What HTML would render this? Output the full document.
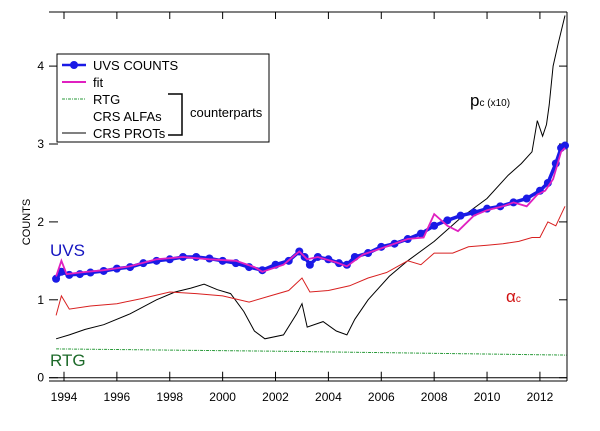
<!DOCTYPE html>
<html><head><meta charset="utf-8"><style>
body{margin:0;background:#fff}
svg{display:block;font-family:"Liberation Sans",sans-serif}
</style></head><body>
<svg id="chart" width="600" height="431" viewBox="0 0 600 431">
<g id="frame" stroke="#000" stroke-width="1" fill="none">
<line x1="49" y1="12" x2="567" y2="12"/>
<line x1="567" y1="12" x2="567" y2="381"/>
<line x1="49" y1="381" x2="567" y2="381"/>
</g>
<g id="axes"></g>
<g id="series"></g>
<text x="30" y="222" font-size="11" text-anchor="middle" transform="rotate(-90 30 222)">COUNTS</text>
<text x="50" y="256" font-size="17" fill="#1515c0">UVS</text>
<text x="50" y="366" font-size="17" fill="#1d6a2a">RTG</text>
<text x="506" y="302" font-size="17" fill="#d01010">α<tspan font-size="10">c</tspan></text>
<text x="470" y="106" font-size="17" fill="#000">p<tspan font-size="10">c (x10)</tspan></text>
<g id="legend">
<rect x="57" y="54" width="212" height="88" fill="#fff" stroke="#000"/>
<line x1="62" y1="65" x2="86" y2="65" stroke="#1a1ae6" stroke-width="2.5"/><circle cx="74" cy="65" r="4" fill="#1a1ae6"/>
<text x="93" y="70" font-size="13">UVS COUNTS</text>
<line x1="62" y1="82" x2="86" y2="82" stroke="#e020c0" stroke-width="2"/>
<text x="93" y="87" font-size="13">fit</text>
<line x1="62" y1="99" x2="86" y2="99" stroke="#2a9a3a" stroke-width="1" stroke-dasharray="3,1,1,1"/>
<text x="93" y="104" font-size="13">RTG</text>
<text x="93" y="121" font-size="13">CRS ALFAs</text>
<line x1="62" y1="133" x2="86" y2="133" stroke="#000"/>
<text x="93" y="138" font-size="13">CRS PROTs</text>
<path d="M168 94H182V135H168" fill="none" stroke="#000" stroke-width="1.5"/>
<text x="190" y="117" font-size="13">counterparts</text>
</g>
</svg>
<script>
const yearTicks=[1994,1996,1998,2000,2002,2004,2006,2008,2010,2012];
const countTicks=[0,1,2,3,4];
const uvsYears=[1993.7,1993.9,1994.2,1994.6,1995,1995.5,1996,1996.5,1997,1997.5,1998,1998.5,1999,1999.5,2000,2000.5,2001,2001.5,2002,2002.5,2002.9,2003.1,2003.3,2003.6,2004,2004.4,2004.7,2005,2005.5,2006,2006.5,2007,2007.5,2008,2008.5,2009,2009.5,2010,2010.5,2011,2011.5,2012,2012.3,2012.6,2012.8,2012.95];
const uvsValues=[1.27,1.36,1.32,1.33,1.35,1.37,1.4,1.42,1.47,1.5,1.52,1.55,1.55,1.53,1.5,1.47,1.42,1.38,1.45,1.5,1.62,1.55,1.45,1.55,1.52,1.47,1.45,1.55,1.6,1.68,1.72,1.78,1.85,1.95,2.02,2.08,2.12,2.17,2.2,2.25,2.3,2.4,2.5,2.75,2.95,2.98];
const fitYears=[1993.7,1993.9,1994.1,1994.6,1995.5,1996.5,1997.5,1998.5,1999.5,2000.5,2001.2,2001.5,2002.3,2002.9,2003.2,2003.6,2004.3,2004.7,2005.3,2006,2007,2007.6,2008,2008.5,2008.9,2009.5,2010,2010.6,2011,2011.5,2011.9,2012.2,2012.5,2012.8,2012.95];
const fitValues=[1.3,1.5,1.33,1.35,1.38,1.43,1.52,1.55,1.52,1.5,1.42,1.36,1.45,1.62,1.52,1.55,1.48,1.43,1.58,1.66,1.78,1.8,2.1,1.95,1.88,2.08,2.15,2.2,2.25,2.2,2.35,2.4,2.55,2.9,2.95];
const alphaYears=[1993.7,1993.9,1994.2,1995,1996,1997,1998,1999,2000,2001,2001.8,2002.5,2003,2003.3,2004,2004.8,2005.5,2006.2,2007,2007.5,2008,2008.7,2009.3,2010,2010.6,2011.2,2011.7,2012,2012.3,2012.6,2012.95];
const alphaValues=[0.8,1.05,0.88,0.92,0.95,1.02,1.1,1.08,1.05,0.97,1.05,1.12,1.28,1.1,1.12,1.18,1.28,1.35,1.5,1.45,1.6,1.6,1.68,1.7,1.72,1.75,1.8,1.8,2.0,1.95,2.2];
const protYears=[1993.7,1994.2,1994.8,1995.5,1996.5,1997.5,1998.2,1998.8,1999.3,1999.8,2000.3,2000.8,2001.2,2001.6,2002.3,2002.8,2003.0,2003.2,2003.8,2004.3,2004.7,2005,2005.5,2006.3,2007,2008,2009,2010,2010.8,2011.3,2011.7,2011.9,2012.1,2012.25,2012.35,2012.5,2012.7,2012.95];
const protValues=[0.5,0.55,0.62,0.68,0.82,1.0,1.1,1.15,1.2,1.13,1.08,0.85,0.6,0.5,0.55,0.82,0.95,0.65,0.72,0.6,0.55,0.75,1.0,1.3,1.5,1.75,2.05,2.3,2.6,2.75,2.9,3.3,3.1,3.25,3.5,4.0,4.3,4.65];
const rtgYears=[1993.7,2002,2013];
const rtgValues=[0.37,0.34,0.29];

const xs=y=>64+26.44*(y-1994);
const ys=v=>377.7-77.9*v;
const NS='http://www.w3.org/2000/svg';
const axes=document.getElementById('axes');
const series=document.getElementById('series');
function mk(tag,attrs,parent){const e=document.createElementNS(NS,tag);for(const k in attrs)e.setAttribute(k,attrs[k]);parent.appendChild(e);return e;}
const zl=mk('line',{x1:49,x2:567,y1:ys(0),y2:ys(0),stroke:'#000'},axes);


yearTicks.forEach(t=>{
 const x=xs(t);
 const a=mk('line',{x1:x,x2:x,y1:ys(0)-6,y2:381,stroke:'#000'},axes);
 
 
 mk('line',{x1:x,x2:x,y1:12,y2:19,stroke:'#000'},axes);
 const tx=mk('text',{x:x,y:401,'font-size':12,'text-anchor':'middle'},axes);
 tx.textContent=t;
 
 
});
countTicks.forEach(t=>{
 const y=ys(t);
 const a=mk('line',{x1:49,x2:58,y1:y,y2:y,stroke:'#000'},axes);
 
 
 mk('line',{x1:559,x2:567,y1:y,y2:y,stroke:'#000'},axes);
 const tx=mk('text',{x:44,y:y+4,'font-size':12,'text-anchor':'end'},axes);
 tx.textContent=t;
 
 
});
function pts(X,V){return X.map((x,i)=>xs(x).toFixed(1)+','+ys(V[i]).toFixed(1)).join(' ');}
const r=mk('polyline',{points:pts(rtgYears,rtgValues),fill:'none',stroke:'#2a9a3a','stroke-width':1,'stroke-dasharray':'3,1,1,1'},series);


const p=mk('polyline',{points:pts(protYears,protValues),fill:'none',stroke:'#000','stroke-width':1},series);


const al=mk('polyline',{points:pts(alphaYears,alphaValues),fill:'none',stroke:'#d82020','stroke-width':1},series);


const u=mk('polyline',{points:pts(uvsYears,uvsValues),fill:'none',stroke:'#1a1ae6','stroke-width':3.5},series);


uvsYears.forEach((x,i)=>{
 const c=mk('circle',{cx:xs(x),cy:ys(uvsValues[i]),r:4,fill:'#1a1ae6'},series);
 
 
});
const f=mk('polyline',{points:pts(fitYears,fitValues),fill:'none',stroke:'#e020c0','stroke-width':1.8},series);


</script>
</body></html>
